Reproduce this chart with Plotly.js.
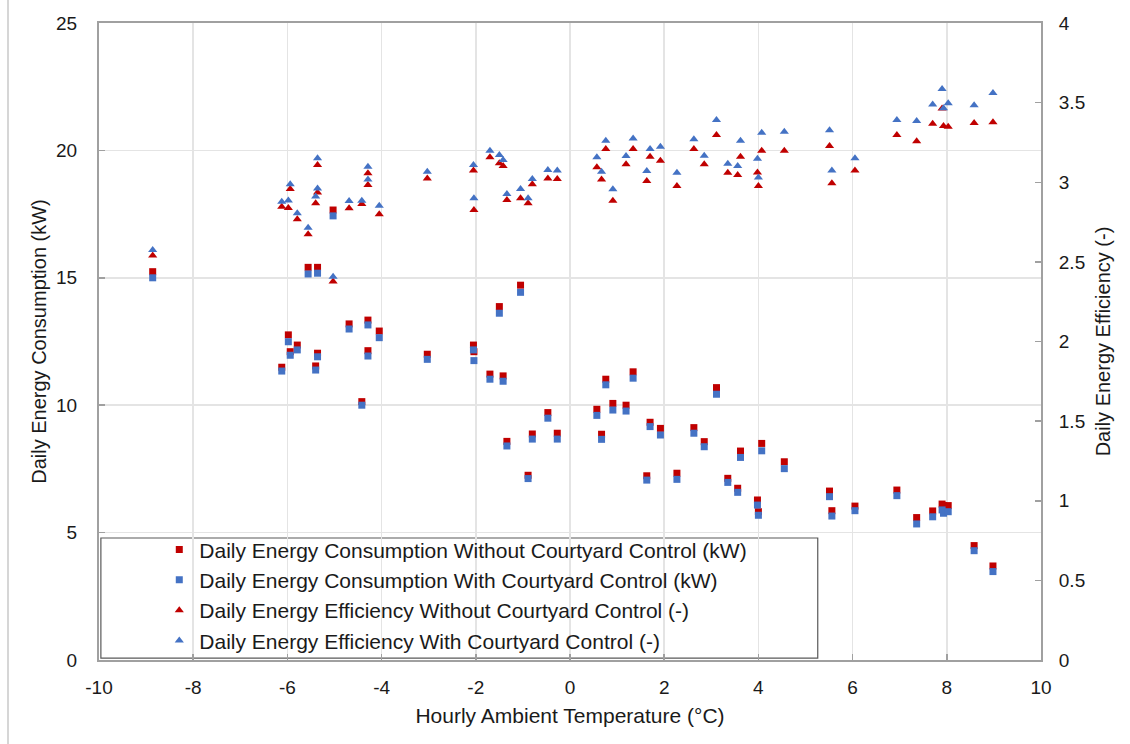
<!DOCTYPE html>
<html>
<head>
<meta charset="utf-8">
<script src="https://cdn.plot.ly/plotly-3.0.1.min.js"></script>
<style>html,body{margin:0;padding:0;background:#fff;}#chart{width:1130px;height:744px;}</style>
</head>
<body>
<div id="chart"></div>
<script>
// Hourly ambient temperature (°C) for each day
var temperature = [-8.86,-6.12,-5.98,-5.94,-5.79,-5.56,-5.40,-5.36,-5.36,-5.03,-4.69,-4.42,-4.29,-4.29,-4.05,
  -3.03,-2.05,-2.04,-1.70,-1.50,-1.42,-1.34,-1.05,-0.89,-0.80,-0.47,-0.27,0.57,0.67,0.76,0.91,1.19,1.34,1.63,1.70,1.92,2.27,2.63,2.85,3.11,3.35,
  3.56,3.62,3.98,4.00,4.07,4.55,5.51,5.56,6.05,6.94,7.36,7.70,7.90,7.93,8.03,8.58,8.98];

// Daily energy consumption (kW)
var consumptionWithout = [15.24,11.49,12.76,12.10,12.36,15.41,11.54,15.41,12.04,17.66,13.19,10.14,13.34,12.14,12.91,
  12.00,12.36,12.10,11.22,13.87,11.15,8.58,14.71,7.25,8.87,9.71,8.90,9.84,8.86,11.02,10.07,10.00,11.31,7.23,9.33,9.09,7.33,9.12,8.57,10.69,7.13,
  6.74,8.20,6.28,5.82,8.50,7.78,6.63,5.86,6.04,6.67,5.59,5.85,6.12,6.06,6.06,4.49,3.69];
var consumptionWith = [15.00,11.34,12.49,11.96,12.17,15.15,11.38,15.18,11.90,17.43,12.99,10.00,13.15,11.93,12.65,
  11.80,12.17,11.75,11.02,13.61,10.94,8.40,14.43,7.12,8.67,9.49,8.67,9.60,8.66,10.80,9.81,9.77,11.06,7.06,9.16,8.83,7.09,8.90,8.37,10.43,6.97,
  6.58,7.95,6.08,5.68,8.21,7.51,6.41,5.65,5.86,6.45,5.34,5.62,5.89,5.76,5.82,4.29,3.47];

// Daily energy efficiency (-)
var efficiencyWithout = [2.54,2.846,2.838,2.958,2.767,2.673,2.868,3.108,2.936,2.376,2.836,2.863,3.056,2.983,2.799,
  3.024,3.073,2.826,3.157,3.119,3.102,2.889,2.899,2.868,2.987,3.024,3.020,3.094,3.018,3.209,2.884,3.113,3.209,3.008,3.160,3.135,2.976,3.209,3.113,3.297,3.060,
  3.045,3.160,3.062,2.976,3.198,3.198,3.228,2.993,3.073,3.297,3.257,3.368,3.463,3.353,3.349,3.372,3.376];
var efficiencyWith = [2.575,2.878,2.885,2.987,2.805,2.715,2.910,3.150,2.960,2.407,2.882,2.884,3.098,3.018,2.853,
  3.066,3.108,2.899,3.198,3.171,3.140,2.926,2.958,2.899,3.020,3.077,3.073,3.157,3.066,3.261,2.956,3.165,3.275,3.070,3.209,3.223,3.060,3.270,3.167,3.391,3.116,
  3.102,3.261,3.148,3.030,3.311,3.317,3.326,3.073,3.150,3.391,3.385,3.488,3.585,3.465,3.496,3.483,3.560];

// Axis tick values and labels
var xTickValues = [-10,-8,-6,-4,-2,0,2,4,6,8,10];
var xTickLabels = ['-10','-8','-6','-4','-2','0','2','4','6','8','10'];
var yTickValues = [0,5,10,15,20,25];
var y2TickValues = [0,0.5,1,1.5,2,2.5,3,3.5,4];
var y2TickLabels = ['0','0.5','1','1.5','2','2.5','3','3.5','4'];

var seriesNames = [
  'Daily Energy Consumption Without Courtyard Control (kW)',
  'Daily Energy Consumption With Courtyard Control (kW)',
  'Daily Energy Efficiency Without Courtyard Control (-)',
  'Daily Energy Efficiency With Courtyard Control (-)'
];

var RED = '#C00000', BLUE = '#4472C4';
var FONT = 'Liberation Sans, Arial, sans-serif';
var TXT = '#1a1a1a';

var traces = [
  {x: temperature, y: consumptionWithout, name: seriesNames[0], type: 'scatter', mode: 'markers',
   marker: {symbol: 'square', size: 7, color: RED}},
  {x: temperature, y: consumptionWith, name: seriesNames[1], type: 'scatter', mode: 'markers',
   marker: {symbol: 'square', size: 7, color: BLUE}},
  {x: temperature, y: efficiencyWithout, name: seriesNames[2], type: 'scatter', mode: 'markers', yaxis: 'y2',
   marker: {symbol: 'triangle-up', size: 8, color: RED}},
  {x: temperature, y: efficiencyWith, name: seriesNames[3], type: 'scatter', mode: 'markers', yaxis: 'y2',
   marker: {symbol: 'triangle-up', size: 8, color: BLUE}}
];

var axisCommon = {
  showline: true, linecolor: '#a0a0a0', linewidth: 2,
  ticks: 'inside', ticklen: 6, tickcolor: '#a0a0a0', tickwidth: 1.5,
  tickfont: {family: FONT, size: 19, color: TXT},
  zeroline: false
};

var layout = {
  width: 1130, height: 744,
  paper_bgcolor: '#ffffff', plot_bgcolor: '#ffffff',
  margin: {l: 99, r: 89, t: 23, b: 84},
  showlegend: true,
  legend: {
    x: 0.064, y: 0.205, xanchor: 'left', yanchor: 'top',
    bgcolor: 'rgba(0,0,0,0)', borderwidth: 0,
    font: {family: FONT, size: 21, color: TXT},
    itemsizing: 'trace', itemwidth: 30, tracegroupgap: 0
  },
  xaxis: Object.assign({}, axisCommon, {
    range: [-10, 10], tickmode: 'array', tickvals: xTickValues, ticktext: xTickLabels,
    ticklabelstandoff: 9,
    showgrid: true, gridcolor: '#e4e4e4', gridwidth: 1.5,
    mirror: true,
    title: {text: 'Hourly Ambient Temperature (°C)', font: {family: FONT, size: 21, color: TXT}, standoff: 12}
  }),
  yaxis: Object.assign({}, axisCommon, {
    range: [0, 25], tickmode: 'array', tickvals: yTickValues,
    ticklabelstandoff: 16,
    showgrid: true, gridcolor: '#e4e4e4', gridwidth: 1.5,
    title: {text: 'Daily Energy Consumption (kW)', font: {family: FONT, size: 20, color: TXT}, standoff: 4}
  }),
  yaxis2: Object.assign({}, axisCommon, {
    range: [0, 4], tickmode: 'array', tickvals: y2TickValues, ticktext: y2TickLabels,
    overlaying: 'y', side: 'right',
    ticklabelstandoff: 12,
    showgrid: false,
    title: {text: 'Daily Energy Efficiency (-)', font: {family: FONT, size: 20, color: TXT}, standoff: 12}
  }),
  shapes: [
    {type: 'rect', xref: 'paper', yref: 'paper', x0: 0.002, x1: 0.763, y0: 0.003, y1: 0.1915,
     line: {color: '#595959', width: 1.2}, fillcolor: '#ffffff', layer: 'below'},
    {type: 'line', xref: 'paper', yref: 'paper', x0: -0.0966, x1: -0.0966, y0: -0.14, y1: 1.04,
     line: {color: '#c8c8c8', width: 1.5}}
  ]
};

Plotly.newPlot('chart', traces, layout, {displayModeBar: false, staticPlot: true});
</script>
</body>
</html>
